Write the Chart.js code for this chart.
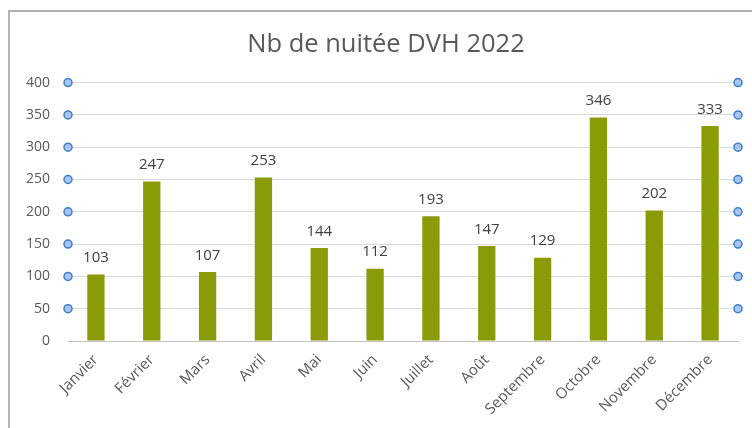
<!DOCTYPE html>
<html>
<head>
<meta charset="utf-8">
<script src="https://cdn.jsdelivr.net/npm/chart.js@4"></script>
<style>
  body { margin: 0; background: #fff; }
  canvas { display: block; }
</style>
</head>
<body>
<canvas id="chart" width="752" height="428"></canvas>
<script>
// Données
var mois = ['Janvier', 'Février', 'Mars', 'Avril', 'Mai', 'Juin', 'Juillet', 'Août', 'Septembre', 'Octobre', 'Novembre', 'Décembre'];
var nuitees = [103, 247, 107, 253, 144, 112, 193, 147, 129, 346, 202, 333];
var titre = 'Nb de nuitée DVH 2022';

var police = '"Open Sans", "DejaVu Sans", sans-serif';

//--- bordure du graphique (Excel)
var bordure = {
    id: 'bordure',
    afterLayout: function (chart) {
        // le titre Excel est un peu décalé vers la droite
        if (chart.titleBlock) {
            chart.titleBlock.left += 13;
            chart.titleBlock.right += 13;
        }
    },
    beforeDraw: function (chart) {
        var ctx = chart.ctx;
        ctx.save();
        ctx.strokeStyle = '#b4b4b4';
        ctx.lineWidth = 2;
        ctx.beginPath();
        ctx.moveTo(9, 428);
        ctx.lineTo(9, 11);
        ctx.lineTo(752, 11);
        ctx.stroke();
        ctx.restore();
    }
};

//--- étiquettes de données
var etiquettes = {
    id: 'etiquettes',
    afterDatasetsDraw: function (chart) {
        var ctx = chart.ctx;
        var meta = chart.getDatasetMeta(0);
        ctx.save();
        ctx.fillStyle = '#404040';
        ctx.font = '15px ' + police;
        ctx.textAlign = 'center';
        ctx.textBaseline = 'bottom';
        meta.data.forEach(function (bar, i) {
            ctx.fillText(chart.data.datasets[0].data[i], bar.x, bar.y - 9);
        });
        ctx.restore();
    }
};

//--- poignées de sélection bleues
var poignees = {
    id: 'poignees',
    afterDraw: function (chart) {
        var ctx = chart.ctx;
        var y = chart.scales.y;
        var area = chart.chartArea;
        ctx.save();
        ctx.fillStyle = '#a9c4f0';
        ctx.strokeStyle = '#3d7fc4';
        ctx.lineWidth = 1.5;
        y.ticks.forEach(function (t) {
            if (t.value === 0) return;
            var py = y.getPixelForValue(t.value);
            [area.left, area.right].forEach(function (px) {
                ctx.beginPath();
                ctx.arc(px, py, 4, 0, Math.PI * 2);
                ctx.fill();
                ctx.stroke();
            });
        });
        ctx.restore();
    }
};

var chart = new Chart(document.getElementById('chart'), {
    type: 'bar',
    data: {
        labels: mois,
        datasets: [{
            label: titre,
            data: nuitees,
            backgroundColor: '#8a9b08',
            barPercentage: 0.31,
            categoryPercentage: 1
        }]
    },
    options: {
        responsive: false,
        animation: false,
        layout: { padding: { left: 8, right: 14, top: 0, bottom: 0 } },
        plugins: {
            legend: { display: false },
            tooltip: { enabled: false },
            title: {
                display: true,
                text: titre,
                color: '#595959',
                font: { family: police, size: 25.5, weight: 'normal' },
                padding: { top: 29, bottom: 23 }
            }
        },
        scales: {
            x: {
                grid: { display: false, drawTicks: false },
                border: { color: '#bfbfbf', width: 1 },
                ticks: {
                    color: '#595959',
                    font: { family: police, size: 15 },
                    minRotation: 45,
                    maxRotation: 45,
                    padding: 10
                },
                afterFit: function (scale) { scale.height = 87; }
            },
            y: {
                min: 0,
                max: 400,
                ticks: {
                    stepSize: 50,
                    color: '#595959',
                    font: { family: police, size: 14 },
                    padding: 18
                },
                grid: { color: '#d9d9d9', drawTicks: false },
                border: { display: false },
                afterFit: function (scale) { scale.width = 60; }
            }
        }
    },
    plugins: [bordure, etiquettes, poignees]
});
</script>
</body>
</html>
